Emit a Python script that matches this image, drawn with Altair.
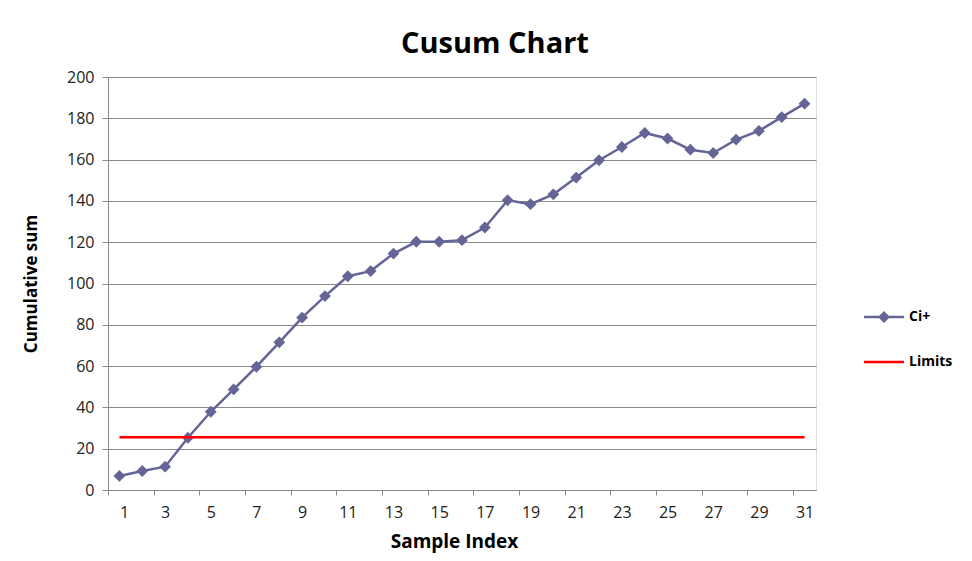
import altair as alt
import pandas as pd

# ---- data ----
sample_index = list(range(1, 32))
ci_plus = [6.8, 9.2, 11.3, 25.3, 37.9, 48.7, 59.7, 71.5, 83.5, 93.9, 103.5,
           106.0, 114.5, 120.2, 120.2, 121.0, 127.1, 140.3, 138.4, 143.2,
           151.3, 159.7, 166.1, 172.9, 170.2, 164.8, 163.2, 169.7, 173.9,
           180.6, 187.1]
limits = [25.6] * 31
series_names = ["Ci+", "Limits"]
y_ticks = list(range(0, 201, 20))
x_tick_bounds = [i + 0.5 for i in range(0, 32)]

FONT = "Open Sans"
CI_COLOR = "#646497"
LIMIT_COLOR = "#FF0000"
GRID = "#8a8a8a"

W, H = 708, 413

df_ci = pd.DataFrame({"idx": sample_index, "val": ci_plus})
df_lim = pd.DataFrame({"idx": sample_index, "val": limits})
df_leg = pd.DataFrame({"series": series_names})

x_scale = alt.Scale(domain=[0.5, 31.5], nice=False, zero=False)
y_scale = alt.Scale(domain=[0, 200], nice=False)

x_axis = alt.Axis(
    values=x_tick_bounds,
    labelExpr="((datum.value + 0.5) % 2 == 1 && datum.value < 31) ? format(datum.value + 0.5, 'd') : ''",
    labelOffset=W / 31 / 2,
    labelOverlap=False,
    labelBound=False,
    labelFont=FONT, labelFontSize=16, labelColor="#222222",
    labelPadding=9,
    tickColor=GRID, tickSize=5, domainColor=GRID, grid=False,
    title="Sample Index", titleFont=FONT, titleFontSize=19, titleFontWeight="bold",
    titleColor="#000000", titleX=346, titleY=57, titleBaseline="alphabetic",
)
y_axis = alt.Axis(
    values=y_ticks,
    labelFont=FONT, labelFontSize=16, labelColor="#222222", labelPadding=8,
    tickColor=GRID, tickSize=6, domainColor=GRID,
    grid=True, gridColor=GRID, gridWidth=1,
    title="Cumulative sum", titleFont=FONT, titleFontSize=17, titleFontWeight="bold",
    titleColor="#000000", titlePadding=26,
)

base_x = alt.X("idx:Q", scale=x_scale, axis=x_axis)
base_y = alt.Y("val:Q", scale=y_scale, axis=y_axis)

ci_line = alt.Chart(df_ci).mark_line(color=CI_COLOR, strokeWidth=2.5).encode(x=base_x, y=base_y)
ci_pts = alt.Chart(df_ci).mark_point(shape="diamond", filled=True, size=140,
                                      color=CI_COLOR, opacity=1).encode(x="idx:Q", y="val:Q")
lim_line = alt.Chart(df_lim).mark_line(color=LIMIT_COLOR, strokeWidth=2.5).encode(x="idx:Q", y="val:Q")

ci_path = "M-1,-0.065L1,-0.065L1,0.065L-1,0.065Z M-0.3,0L0,-0.3L0.3,0L0,0.3Z"
lim_path = "M-1,-0.065L1,-0.065L1,0.065L-1,0.065Z"

leg = alt.Legend(
    title=None, orient="none", legendX=756, legendY=220,
    labelFont=FONT, labelFontSize=14, labelFontWeight="bold", labelColor="#000000",
    symbolSize=1600, symbolOpacity=1, symbolStrokeWidth=0, rowPadding=18, labelOffset=5,
    padding=0,
)
legend_layer = alt.Chart(df_leg).mark_point(filled=True, opacity=0).encode(
    x=alt.value(0), y=alt.value(0),
    fill=alt.Fill("series:N", scale=alt.Scale(domain=series_names, range=[CI_COLOR, LIMIT_COLOR]), legend=leg),
    shape=alt.Shape("series:N", scale=alt.Scale(domain=series_names, range=[ci_path, lim_path]), legend=leg),
)

chart = alt.layer(ci_line, ci_pts, lim_line, legend_layer).properties(
    width=W, height=H,
    title=alt.TitleParams("Cusum Chart", font=FONT, fontSize=29, fontWeight="bold",
                          color="#000000", anchor="middle", dx=33, offset=10),
    autosize=alt.AutoSizeParams(type="none"),
    padding={"left": 100, "top": 69, "right": 148, "bottom": 66},
).configure_view(stroke=None).configure(background="#ffffff")

chart.save("out.html", embed_options={"renderer": "svg", "actions": False})
